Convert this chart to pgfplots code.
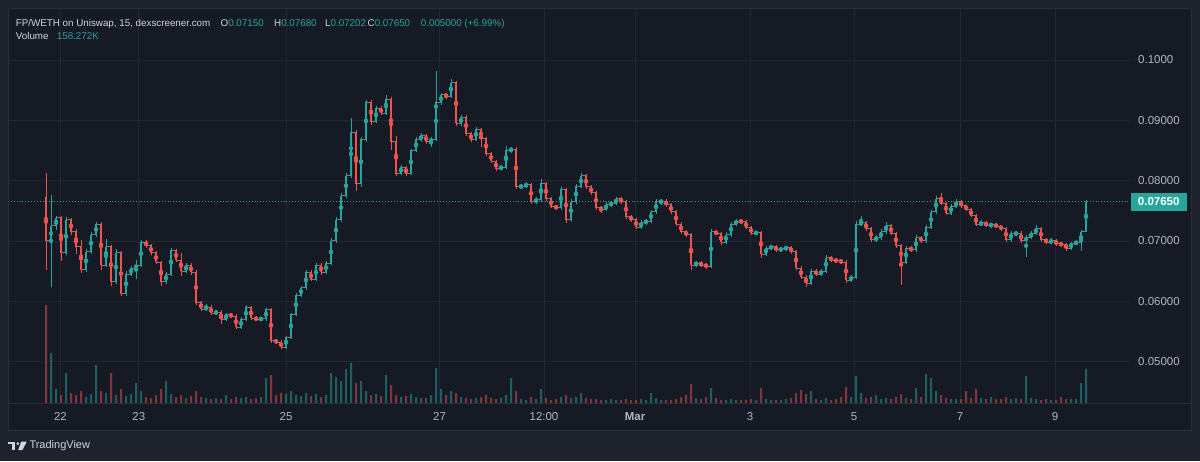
\documentclass[border=0pt]{standalone}
\usepackage{fontspec}
\setmainfont{Liberation Sans}
\usepackage{pgfplots}
\usepackage{pgfplotstable}
\pgfplotsset{compat=1.18}
\definecolor{outerbg}{HTML}{1E222D}
\definecolor{panebg}{HTML}{161A25}
\definecolor{borderc}{HTML}{2A2E39}
\definecolor{gridc}{HTML}{232733}
\definecolor{txt}{HTML}{B2B5BE}
\definecolor{hdr}{HTML}{D1D4DC}
\definecolor{up}{HTML}{26A69A}
\definecolor{dn}{HTML}{EF5350}
\definecolor{flat}{HTML}{8C8F96}

\pgfplotstableread{
x o h l c v
46 .0772 .0812 .0652 .0700 98
51 .0700 .0776 .0624 .0725 50
56 .0725 .0742 .0718 .0738 14
61 .0738 .0741 .0666 .0680 8
66 .0680 .0740 .0676 .0735 30
71 .0735 .0738 .0710 .0715 10
76 .0715 .0720 .0678 .0690 8
81 .0690 .0701 .0647 .0652 12
86 .0652 .0686 .0648 .0682 6
91 .0682 .0714 .0679 .0710 9
96 .0710 .0732 .0706 .0728 38
101 .0728 .0731 .0652 .0660 12
106 .0660 .0703 .0656 .0690 10
111 .0690 .0694 .0626 .0632 30
116 .0632 .0686 .0628 .0680 8
121 .0680 .0683 .0608 .0612 14
126 .0612 .0650 .0609 .0645 7
131 .0645 .0659 .0641 .0655 9
136 .0655 .0668 .0637 .0660 20
141 .0660 .0701 .0657 .0698 12
146 .0698 .0702 .0689 .0692 6
151 .0692 .0695 .0677 .0680 5
156 .0680 .0683 .0662 .0665 8
161 .0665 .0667 .0626 .0632 14
166 .0632 .0649 .0629 .0645 22
171 .0645 .0689 .0642 .0684 9
176 .0684 .0687 .0665 .0668 6
181 .0668 .0680 .0642 .0650 8
186 .0650 .0663 .0647 .0660 5
191 .0660 .0663 .0644 .0648 7
196 .0648 .0651 .0594 .0598 12
201 .0598 .0601 .0584 .0587 6
206 .0587 .0595 .0584 .0590 5
211 .0590 .0593 .0577 .0580 4
216 .0580 .0586 .0577 .0582 5
221 .0582 .0585 .0562 .0570 4
226 .0570 .0581 .0567 .0578 8
231 .0578 .0581 .0572 .0575 4
236 .0575 .0578 .0554 .0557 6
241 .0557 .0573 .0554 .0570 5
246 .0570 .0593 .0567 .0590 6
251 .0590 .0592 .0569 .0572 4
256 .0572 .0575 .0567 .0570 5
261 .0570 .0574 .0567 .0571 6
266 .0571 .0589 .0568 .0586 25
271 .0586 .0589 .0530 .0535 28
276 .0535 .0538 .0529 .0532 8
281 .0532 .0535 .0521 .0524 10
286 .0524 .0543 .0521 .0540 9
291 .0540 .0581 .0537 .0578 12
296 .0578 .0614 .0575 .0610 8
301 .0610 .0625 .0607 .0622 7
306 .0622 .0652 .0619 .0648 10
311 .0648 .0651 .0633 .0636 7
316 .0636 .0663 .0633 .0660 9
321 .0660 .0663 .0644 .0648 6
326 .0648 .0667 .0645 .0663 8
331 .0663 .0704 .0660 .0700 30
336 .0700 .0739 .0697 .0735 26
341 .0735 .0780 .0731 .0775 22
346 .0775 .0812 .0771 .0808 34
351 .0808 .0903 .0804 .0880 40
356 .0880 .0884 .0782 .0795 20
361 .0795 .0872 .0790 .0868 22
366 .0868 .0934 .0864 .0930 12
371 .0930 .0933 .0893 .0898 8
376 .0898 .0924 .0895 .0920 9
381 .0920 .0924 .0908 .0912 7
386 .0912 .0942 .0909 .0935 28
391 .0935 .0938 .0850 .0865 18
396 .0865 .0874 .0808 .0812 8
401 .0812 .0826 .0809 .0822 6
406 .0822 .0825 .0807 .0812 7
411 .0812 .0853 .0809 .0850 9
416 .0850 .0872 .0847 .0868 6
421 .0868 .0879 .0864 .0875 5
426 .0875 .0878 .0861 .0865 5
431 .0865 .0872 .0855 .0868 8
436 .0868 .0981 .0865 .0930 35
441 .0930 .0946 .0926 .0942 14
446 .0942 .0945 .0936 .0940 8
451 .0940 .0968 .0937 .0962 12
456 .0962 .0965 .0890 .0895 10
461 .0895 .0909 .0891 .0905 6
466 .0905 .0908 .0874 .0878 5
471 .0878 .0881 .0864 .0868 4
476 .0868 .0889 .0865 .0885 5
481 .0885 .0888 .0856 .0870 6
486 .0870 .0873 .0841 .0845 8
491 .0845 .0848 .0829 .0832 5
496 .0832 .0835 .0816 .0820 4
501 .0820 .0826 .0817 .0822 5
506 .0822 .0858 .0819 .0850 8
511 .0850 .0856 .0846 .0852 25
516 .0852 .0855 .0786 .0790 12
521 .0790 .0794 .0786 .0791 4
526 .0791 .0797 .0788 .0793 3
531 .0793 .0796 .0761 .0765 6
536 .0765 .0772 .0762 .0768 4
541 .0768 .0802 .0765 .0795 14
546 .0795 .0798 .0766 .0770 5
551 .0770 .0773 .0754 .0757 3
556 .0757 .0760 .0752 .0755 4
561 .0755 .0790 .0752 .0785 6
566 .0785 .0788 .0729 .0735 8
571 .0735 .0769 .0732 .0765 5
576 .0765 .0794 .0762 .0790 6
581 .0790 .0812 .0787 .0808 10
586 .0808 .0811 .0786 .0790 5
591 .0790 .0793 .0776 .0780 4
596 .0780 .0783 .0751 .0755 4
601 .0755 .0758 .0746 .0752 3
606 .0752 .0764 .0749 .0760 3
611 .0760 .0766 .0757 .0762 4
616 .0762 .0773 .0759 .0770 3
621 .0770 .0773 .0761 .0765 3
626 .0765 .0768 .0737 .0740 4
631 .0740 .0743 .0732 .0735 3
636 .0735 .0738 .0719 .0723 3
641 .0723 .0734 .0720 .0730 4
646 .0730 .0737 .0727 .0733 3
651 .0733 .0752 .0730 .0748 10
656 .0748 .0769 .0745 .0765 5
661 .0765 .0769 .0760 .0766 3
666 .0766 .0769 .0757 .0760 3
671 .0760 .0763 .0745 .0748 3
676 .0748 .0751 .0725 .0728 4
681 .0728 .0731 .0712 .0715 6
686 .0715 .0718 .0707 .0710 8
691 .0710 .0713 .0652 .0660 19
696 .0660 .0667 .0657 .0663 5
701 .0663 .0666 .0657 .0660 4
706 .0660 .0664 .0654 .0658 6
711 .0658 .0719 .0655 .0715 15
716 .0715 .0718 .0709 .0712 5
721 .0712 .0715 .0694 .0698 3
726 .0698 .0714 .0695 .0710 3
731 .0710 .0732 .0707 .0728 4
736 .0728 .0736 .0725 .0733 3
741 .0733 .0736 .0728 .0732 3
746 .0732 .0735 .0719 .0722 3
751 .0722 .0725 .0710 .0713 4
756 .0713 .0717 .0709 .0714 3
761 .0714 .0717 .0672 .0678 15
766 .0678 .0692 .0675 .0688 4
771 .0688 .0694 .0685 .0690 3
776 .0690 .0693 .0682 .0685 3
781 .0685 .0690 .0682 .0687 3
786 .0687 .0692 .0684 .0689 4
791 .0689 .0692 .0679 .0682 5
796 .0682 .0685 .0651 .0655 10
801 .0655 .0658 .0636 .0640 13
806 .0640 .0643 .0624 .0630 9
811 .0630 .0654 .0627 .0650 12
816 .0650 .0653 .0642 .0645 4
821 .0645 .0653 .0642 .0650 3
826 .0650 .0676 .0647 .0672 5
831 .0672 .0675 .0665 .0668 3
836 .0668 .0671 .0664 .0667 4
841 .0667 .0670 .0662 .0665 6
846 .0665 .0668 .0631 .0635 16
851 .0635 .0644 .0632 .0640 6
856 .0640 .0733 .0637 .0728 27
861 .0728 .0741 .0725 .0730 10
866 .0730 .0733 .0717 .0720 5
871 .0720 .0723 .0698 .0702 6
876 .0702 .0709 .0699 .0705 8
881 .0705 .0719 .0702 .0715 4
886 .0715 .0732 .0712 .0725 5
891 .0725 .0728 .0709 .0712 4
896 .0712 .0715 .0688 .0692 6
901 .0692 .0695 .0627 .0665 9
906 .0665 .0692 .0662 .0688 5
911 .0688 .0691 .0682 .0685 4
916 .0685 .0709 .0682 .0705 15
921 .0705 .0708 .0697 .0700 6
926 .0700 .0726 .0697 .0722 29
931 .0722 .0752 .0719 .0748 25
936 .0748 .0775 .0745 .0770 12
941 .0770 .0780 .0759 .0762 8
946 .0762 .0765 .0743 .0746 5
951 .0746 .0761 .0743 .0757 4
956 .0757 .0769 .0754 .0765 4
961 .0765 .0768 .0755 .0758 4
966 .0758 .0761 .0749 .0752 12
971 .0752 .0755 .0739 .0742 5
976 .0742 .0745 .0724 .0727 14
981 .0727 .0734 .0724 .0730 5
986 .0730 .0733 .0723 .0726 4
991 .0726 .0730 .0722 .0727 6
996 .0727 .0730 .0721 .0724 4
1001 .0724 .0727 .0717 .0720 4
1006 .0720 .0723 .0699 .0702 6
1011 .0702 .0716 .0699 .0712 4
1016 .0712 .0716 .0708 .0713 5
1021 .0713 .0716 .0697 .0700 4
1026 .0700 .0710 .0674 .0706 27
1031 .0706 .0716 .0703 .0712 5
1036 .0712 .0726 .0709 .0720 4
1041 .0720 .0723 .0699 .0702 3
1046 .0702 .0705 .0695 .0698 4
1051 .0698 .0704 .0695 .0700 3
1056 .0700 .0703 .0692 .0695 3
1061 .0695 .0698 .0691 .0694 6
1066 .0694 .0697 .0684 .0688 4
1071 .0688 .0699 .0685 .0696 4
1076 .0696 .0701 .0693 .0697 4
1081 .0697 .0718 .0684 .0715 20
1086 .0715 .0768 .0715 .0765 34
}\candles

\begin{document}
\begin{tikzpicture}[x=1pt,y=1pt]
\fill[outerbg] (0,0) rectangle (1200,461);
\fill[panebg] (8,31) rectangle (1191,453);

\begin{axis}[at={(8pt,58pt)}, anchor=south west, scale only axis,
  width=1122pt, height=395pt,
  xmin=8, xmax=1130, ymin=0.043118, ymax=0.108624,
  axis line style={draw=none}, tick style={draw=none}, major tick length=0pt,
  grid=major, grid style={gridc, line width=0.8pt},
  xtick={60.5,138.8,286,439.5,544,635,750,854,960,1055},
  xticklabels={22,23,25,27,12:00,\textbf{Mar},3,5,7,9},
  ytick={0.05,0.06,0.07,0.08,0.09,0.1},
  yticklabels={0.05000,0.06000,0.07000,0.08000,0.09000,0.1000},
  yticklabel pos=right,
  ticklabel style={font=\fontsize{11.5}{13}\selectfont, text=txt},
  x tick label style={anchor=center, inner sep=0pt, yshift=-13.7pt},
  y tick label style={anchor=west, inner sep=0pt, xshift=8pt},
]
% step line of closes, giving the dense-candle continuity
\addplot[const plot, flat, line width=1pt, opacity=0.85] table[x=x, y=c] {\candles};
% wicks up
\addplot[only marks, mark=none, up, restrict y to domain=0:1,
  error bars/.cd, y dir=both, y explicit, error mark=none,
  error bar style={line width=0.7pt, up}]
  table[x=x, y expr={(\thisrow{h}+\thisrow{l})/2 + 10*(\thisrow{o}>\thisrow{c})},
        y error expr={(\thisrow{h}-\thisrow{l})/2}] {\candles};
% wicks down
\addplot[only marks, mark=none, dn, restrict y to domain=0:1,
  error bars/.cd, y dir=both, y explicit, error mark=none,
  error bar style={line width=0.7pt, dn}]
  table[x=x, y expr={(\thisrow{h}+\thisrow{l})/2 + 10*(1-(\thisrow{o}>\thisrow{c}))},
        y error expr={(\thisrow{h}-\thisrow{l})/2}] {\candles};
% bodies up
\addplot[only marks, mark=none, up, restrict y to domain=0:1,
  error bars/.cd, y dir=both, y explicit, error mark=none,
  error bar style={line width=1.4pt, up}]
  table[x=x, y expr={(\thisrow{o}+\thisrow{c})/2 + 10*(\thisrow{o}>\thisrow{c})},
        y error expr={abs(\thisrow{c}-\thisrow{o})/2+0.00003}] {\candles};
% bodies down
\addplot[only marks, mark=none, dn, restrict y to domain=0:1,
  error bars/.cd, y dir=both, y explicit, error mark=none,
  error bar style={line width=1.4pt, dn}]
  table[x=x, y expr={(\thisrow{o}+\thisrow{c})/2 + 10*(1-(\thisrow{o}>\thisrow{c}))},
        y error expr={abs(\thisrow{c}-\thisrow{o})/2+0.00003}] {\candles};
% last price line
\addplot[up, dash pattern=on 0.9pt off 2pt, line width=0.9pt] coordinates {(8,0.0765) (1130,0.0765)};
\end{axis}

\begin{axis}[at={(8pt,58pt)}, anchor=south west, scale only axis,
  width=1122pt, height=395pt,
  xmin=8, xmax=1130, ymin=0, ymax=395, hide axis]
\addplot[ybar, bar width=2pt, bar shift=0pt, fill=up, fill opacity=0.5, draw=none]
  table[x=x, y expr={\thisrow{v}*(1-(\thisrow{o}>\thisrow{c}))}] {\candles};
\addplot[ybar, bar width=2pt, bar shift=0pt, fill=dn, fill opacity=0.5, draw=none]
  table[x=x, y expr={\thisrow{v}*(\thisrow{o}>\thisrow{c})}] {\candles};
\end{axis}

% pane frame and time-axis separator
\draw[borderc, line width=0.8pt] (8,31) rectangle (1191,453);
\draw[borderc, line width=0.8pt] (8,58) -- (1191,58);

% last price label
\fill[up] (1130.7,250.3) rectangle (1186.7,268);
\node[text=white, font=\fontsize{11.5}{13}\selectfont\bfseries, inner sep=0pt] at (1158.7,259.1) {0.07650};

% header legend
\begin{scope}[every node/.style={anchor=base west, inner sep=0pt, font=\fontsize{9.8}{12}\selectfont, text=hdr}]
\node at (15.7,434.6) {FP/WETH on Uniswap, 15, dexscreener.com};
\node at (220.5,434.6) {O\textcolor{up}{0.07150}};
\node at (274,434.6) {H\textcolor{up}{0.07680}};
\node at (325,434.6) {L\textcolor{up}{0.07202}};
\node at (367.5,434.6) {C\textcolor{up}{0.07650}};
\node at (420.7,434.6) {\textcolor{up}{0.005000 (+6.99\%)}};
\node at (15.7,421.3) {Volume};
\node at (56.7,421.3) {\textcolor{up}{158.272K}};
\end{scope}

% TradingView logo
\fill[hdr] (8.3,19.3) rectangle (15.2,16.6);
\fill[hdr] (11.8,19.3) rectangle (15.2,11);
\fill[hdr] (17.8,17.4) circle (1.5);
\fill[hdr] (21.2,19.3) -- (26.7,19.3) -- (22.4,11) -- (18.2,11) -- cycle;
\node[anchor=west, inner sep=0pt, text=hdr, font=\fontsize{11}{13}\selectfont] at (29.3,15.3) {TradingView};
\end{tikzpicture}
\end{document}
